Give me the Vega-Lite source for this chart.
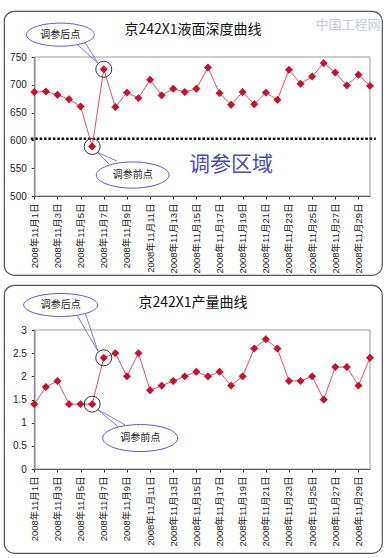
{
  "$schema": "https://vega.github.io/schema/vega-lite/v6.json",
  "padding": {"left": 3, "top": 10, "right": 0, "bottom": 0},
  "spacing": 8,
  "background": "white",
  "config": {
    "view": {"stroke": "#555", "strokeWidth": 1.2, "cornerRadius": 10},
    "axis": {"grid": false, "title": null, "domainColor": "#222", "tickColor": "#222", "labelColor": "#222", "labelFont": "Liberation Sans, Noto Sans CJK SC"},
    "title": {"font": "Noto Sans CJK SC", "fontWeight": "normal", "fontSize": 14, "color": "#111", "anchor": "middle"}
  },
  "datasets": {
    "depth": [
      {"day": 1, "v": 687}, {"day": 2, "v": 688}, {"day": 3, "v": 682}, {"day": 4, "v": 674}, {"day": 5, "v": 661},
      {"day": 6, "v": 589}, {"day": 7, "v": 728}, {"day": 8, "v": 660}, {"day": 9, "v": 686}, {"day": 10, "v": 676},
      {"day": 11, "v": 709}, {"day": 12, "v": 681}, {"day": 13, "v": 693}, {"day": 14, "v": 687}, {"day": 15, "v": 693},
      {"day": 16, "v": 731}, {"day": 17, "v": 685}, {"day": 18, "v": 664}, {"day": 19, "v": 687}, {"day": 20, "v": 665},
      {"day": 21, "v": 686}, {"day": 22, "v": 673}, {"day": 23, "v": 727}, {"day": 24, "v": 702}, {"day": 25, "v": 715},
      {"day": 26, "v": 739}, {"day": 27, "v": 722}, {"day": 28, "v": 699}, {"day": 29, "v": 718}, {"day": 30, "v": 698}
    ],
    "prod": [
      {"day": 1, "v": 1.4}, {"day": 2, "v": 1.77}, {"day": 3, "v": 1.9}, {"day": 4, "v": 1.4}, {"day": 5, "v": 1.4},
      {"day": 6, "v": 1.4}, {"day": 7, "v": 2.4}, {"day": 8, "v": 2.5}, {"day": 9, "v": 2.0}, {"day": 10, "v": 2.5},
      {"day": 11, "v": 1.7}, {"day": 12, "v": 1.8}, {"day": 13, "v": 1.9}, {"day": 14, "v": 2.0}, {"day": 15, "v": 2.1},
      {"day": 16, "v": 2.0}, {"day": 17, "v": 2.1}, {"day": 18, "v": 1.8}, {"day": 19, "v": 2.0}, {"day": 20, "v": 2.6},
      {"day": 21, "v": 2.8}, {"day": 22, "v": 2.6}, {"day": 23, "v": 1.9}, {"day": 24, "v": 1.9}, {"day": 25, "v": 2.0},
      {"day": 26, "v": 1.5}, {"day": 27, "v": 2.2}, {"day": 28, "v": 2.2}, {"day": 29, "v": 1.8}, {"day": 30, "v": 2.4}
    ],
    "one": [{}]
  },
  "vconcat": [
    {
      "width": 378,
      "height": 264,
      "title": {"text": "京242X1液面深度曲线", "offset": -26},
      "encoding": {
        "x": {"type": "quantitative", "scale": {"domain": [1, 30], "range": [30.3, 366], "nice": false, "zero": false},
          "axis": {"values": [1,3,5,7,9,11,13,15,17,19,21,23,25,27,29], "labelExpr": "'2008年11月' + datum.value + '日'", "labelAngle": 270, "labelFontSize": 9.5, "offset": -79, "tickSize": 3, "labelPadding": 4}},
        "y": {"type": "quantitative", "scale": {"domain": [500, 750], "range": [185, 46], "nice": false, "zero": false},
          "axis": {"values": [500,550,600,650,700,750], "offset": -30.3, "tickSize": 3, "labelPadding": 5, "labelFontSize": 10}}
      },
      "layer": [
        {"data": {"name": "one"}, "mark": {"type": "rect", "filled": false, "stroke": "#9a9a9a", "strokeWidth": 1},
          "encoding": {"x": {"datum": 1}, "x2": {"datum": 30}, "y": {"datum": 500}, "y2": {"datum": 750}}},
        {"data": {"name": "one"}, "mark": {"type": "rule", "color": "#111", "strokeWidth": 2.6, "strokeDash": [2.6, 1.8]},
          "encoding": {"x": {"datum": 0.7}, "x2": {"datum": 30.5}, "y": {"datum": 603}}},
        {"data": {"name": "depth"}, "mark": {"type": "line", "color": "#e0506a", "strokeWidth": 1},
          "encoding": {"x": {"field": "day"}, "y": {"field": "v"}}},
        {"data": {"name": "depth"}, "mark": {"type": "point", "shape": "diamond", "filled": true, "size": 55, "fill": "#c8102e", "stroke": "#a0001e", "strokeWidth": 0.5, "opacity": 1},
          "encoding": {"x": {"field": "day"}, "y": {"field": "v"}}},
        {"data": {"name": "depth"}, "transform": [{"filter": "datum.day == 6 || datum.day == 7"}],
          "mark": {"type": "point", "shape": "circle", "filled": false, "size": 256, "stroke": "#333", "strokeWidth": 1, "opacity": 1},
          "encoding": {"x": {"field": "day"}, "y": {"field": "v"}}},
        {"data": {"name": "one"}, "mark": {"type": "rule", "color": "#5a5acc", "strokeWidth": 0.8},
          "encoding": {"x": {"datum": 4.69}, "y": {"datum": 772.8}, "x2": {"datum": 6.5}, "y2": {"datum": 738.7}}},
        {"data": {"name": "one"}, "mark": {"type": "rule", "color": "#5a5acc", "strokeWidth": 0.8},
          "encoding": {"x": {"datum": 5.38}, "y": {"datum": 776.4}, "x2": {"datum": 6.5}, "y2": {"datum": 738.7}}},
        {"data": {"name": "one"}, "mark": {"type": "rule", "color": "#5a5acc", "strokeWidth": 0.8},
          "encoding": {"x": {"datum": 6.42}, "y": {"datum": 579}, "x2": {"datum": 7.46}, "y2": {"datum": 557.4}}},
        {"data": {"name": "one"}, "mark": {"type": "rule", "color": "#5a5acc", "strokeWidth": 0.8},
          "encoding": {"x": {"datum": 6.42}, "y": {"datum": 579}, "x2": {"datum": 8.14}, "y2": {"datum": 562.8}}},
        {"data": {"name": "one"}, "mark": {"type": "point", "shape": "M-1,0C-1,-0.19,-0.55,-0.34,0,-0.34C0.55,-0.34,1,-0.19,1,0C1,0.19,0.55,0.34,0,0.34C-0.55,0.34,-1,0.19,-1,0Z", "size": 4600, "filled": true, "fill": "white", "stroke": "#5a5acc", "strokeWidth": 1, "opacity": 1},
          "encoding": {"x": {"datum": 3.25}, "y": {"datum": 790.2}}},
        {"data": {"name": "one"}, "mark": {"type": "point", "shape": "M-1,0C-1,-0.19,-0.55,-0.36,0,-0.36C0.55,-0.36,1,-0.19,1,0C1,0.19,0.55,0.36,0,0.36C-0.55,0.36,-1,0.19,-1,0Z", "size": 5300, "filled": true, "fill": "white", "stroke": "#5a5acc", "strokeWidth": 1, "opacity": 1},
          "encoding": {"x": {"datum": 9.5}, "y": {"datum": 537.7}}},
        {"data": {"name": "one"}, "mark": {"type": "text", "text": "调参后点", "font": "Noto Sans CJK SC", "fontSize": 10, "color": "#222"},
          "encoding": {"x": {"datum": 3.25}, "y": {"datum": 790.2}}},
        {"data": {"name": "one"}, "mark": {"type": "text", "text": "调参前点", "font": "Noto Sans CJK SC", "fontSize": 10, "color": "#222"},
          "encoding": {"x": {"datum": 9.5}, "y": {"datum": 537.7}}},
        {"data": {"name": "one"}, "mark": {"type": "text", "text": "调参区域", "font": "Noto Sans CJK SC", "fontSize": 21, "color": "#4a4ab8"},
          "encoding": {"x": {"datum": 18}, "y": {"datum": 555}}},
        {"data": {"name": "one"}, "mark": {"type": "text", "text": "中国工程网", "font": "Noto Sans CJK SC", "fontSize": 13, "color": "#c5cadc"},
          "encoding": {"x": {"datum": 28.1}, "y": {"datum": 808}}}
      ]
    },
    {
      "width": 378,
      "height": 268,
      "title": {"text": "京242X1产量曲线", "offset": -25},
      "encoding": {
        "x": {"type": "quantitative", "scale": {"domain": [1, 30], "range": [30.3, 366], "nice": false, "zero": false},
          "axis": {"values": [1,3,5,7,9,11,13,15,17,19,21,23,25,27,29], "labelExpr": "'2008年11月' + datum.value + '日'", "labelAngle": 270, "labelFontSize": 9.5, "offset": -84, "tickSize": 3, "labelPadding": 4}},
        "y": {"type": "quantitative", "scale": {"domain": [0, 3], "range": [184, 45], "nice": false, "zero": false},
          "axis": {"values": [0, 0.5, 1, 1.5, 2, 2.5, 3], "format": "~g", "offset": -30.3, "tickSize": 3, "labelPadding": 5, "labelFontSize": 10}}
      },
      "layer": [
        {"data": {"name": "one"}, "mark": {"type": "rect", "filled": false, "stroke": "#9a9a9a", "strokeWidth": 1},
          "encoding": {"x": {"datum": 1}, "x2": {"datum": 30}, "y": {"datum": 0}, "y2": {"datum": 3}}},
        {"data": {"name": "prod"}, "mark": {"type": "line", "color": "#e0506a", "strokeWidth": 1},
          "encoding": {"x": {"field": "day"}, "y": {"field": "v"}}},
        {"data": {"name": "prod"}, "mark": {"type": "point", "shape": "diamond", "filled": true, "size": 55, "fill": "#c8102e", "stroke": "#a0001e", "strokeWidth": 0.5, "opacity": 1},
          "encoding": {"x": {"field": "day"}, "y": {"field": "v"}}},
        {"data": {"name": "prod"}, "transform": [{"filter": "datum.day == 6 || datum.day == 7"}],
          "mark": {"type": "point", "shape": "circle", "filled": false, "size": 256, "stroke": "#333", "strokeWidth": 1, "opacity": 1},
          "encoding": {"x": {"field": "day"}, "y": {"field": "v"}}},
        {"data": {"name": "one"}, "mark": {"type": "rule", "color": "#5a5acc", "strokeWidth": 0.8},
          "encoding": {"x": {"datum": 4.69}, "y": {"datum": 3.32}, "x2": {"datum": 6.5}, "y2": {"datum": 2.54}}},
        {"data": {"name": "one"}, "mark": {"type": "rule", "color": "#5a5acc", "strokeWidth": 0.8},
          "encoding": {"x": {"datum": 5.38}, "y": {"datum": 3.38}, "x2": {"datum": 6.5}, "y2": {"datum": 2.54}}},
        {"data": {"name": "one"}, "mark": {"type": "rule", "color": "#5a5acc", "strokeWidth": 0.8},
          "encoding": {"x": {"datum": 6.42}, "y": {"datum": 1.29}, "x2": {"datum": 8.23}, "y2": {"datum": 0.915}}},
        {"data": {"name": "one"}, "mark": {"type": "rule", "color": "#5a5acc", "strokeWidth": 0.8},
          "encoding": {"x": {"datum": 6.42}, "y": {"datum": 1.29}, "x2": {"datum": 8.84}, "y2": {"datum": 0.954}}},
        {"data": {"name": "one"}, "mark": {"type": "point", "shape": "M-1,0C-1,-0.17,-0.55,-0.31,0,-0.31C0.55,-0.31,1,-0.17,1,0C1,0.17,0.55,0.31,0,0.31C-0.55,0.31,-1,0.17,-1,0Z", "size": 5476, "filled": true, "fill": "white", "stroke": "#5a5acc", "strokeWidth": 1, "opacity": 1},
          "encoding": {"x": {"datum": 3.28}, "y": {"datum": 3.54}}},
        {"data": {"name": "one"}, "mark": {"type": "point", "shape": "M-1,0C-1,-0.2,-0.55,-0.36,0,-0.36C0.55,-0.36,1,-0.2,1,0C1,0.2,0.55,0.36,0,0.36C-0.55,0.36,-1,0.2,-1,0Z", "size": 5625, "filled": true, "fill": "white", "stroke": "#5a5acc", "strokeWidth": 1, "opacity": 1},
          "encoding": {"x": {"datum": 10.15}, "y": {"datum": 0.668}}},
        {"data": {"name": "one"}, "mark": {"type": "text", "text": "调参后点", "font": "Noto Sans CJK SC", "fontSize": 10, "color": "#222"},
          "encoding": {"x": {"datum": 3.28}, "y": {"datum": 3.54}}},
        {"data": {"name": "one"}, "mark": {"type": "text", "text": "调参前点", "font": "Noto Sans CJK SC", "fontSize": 10, "color": "#222"},
          "encoding": {"x": {"datum": 10.15}, "y": {"datum": 0.668}}}
      ]
    }
  ]
}
